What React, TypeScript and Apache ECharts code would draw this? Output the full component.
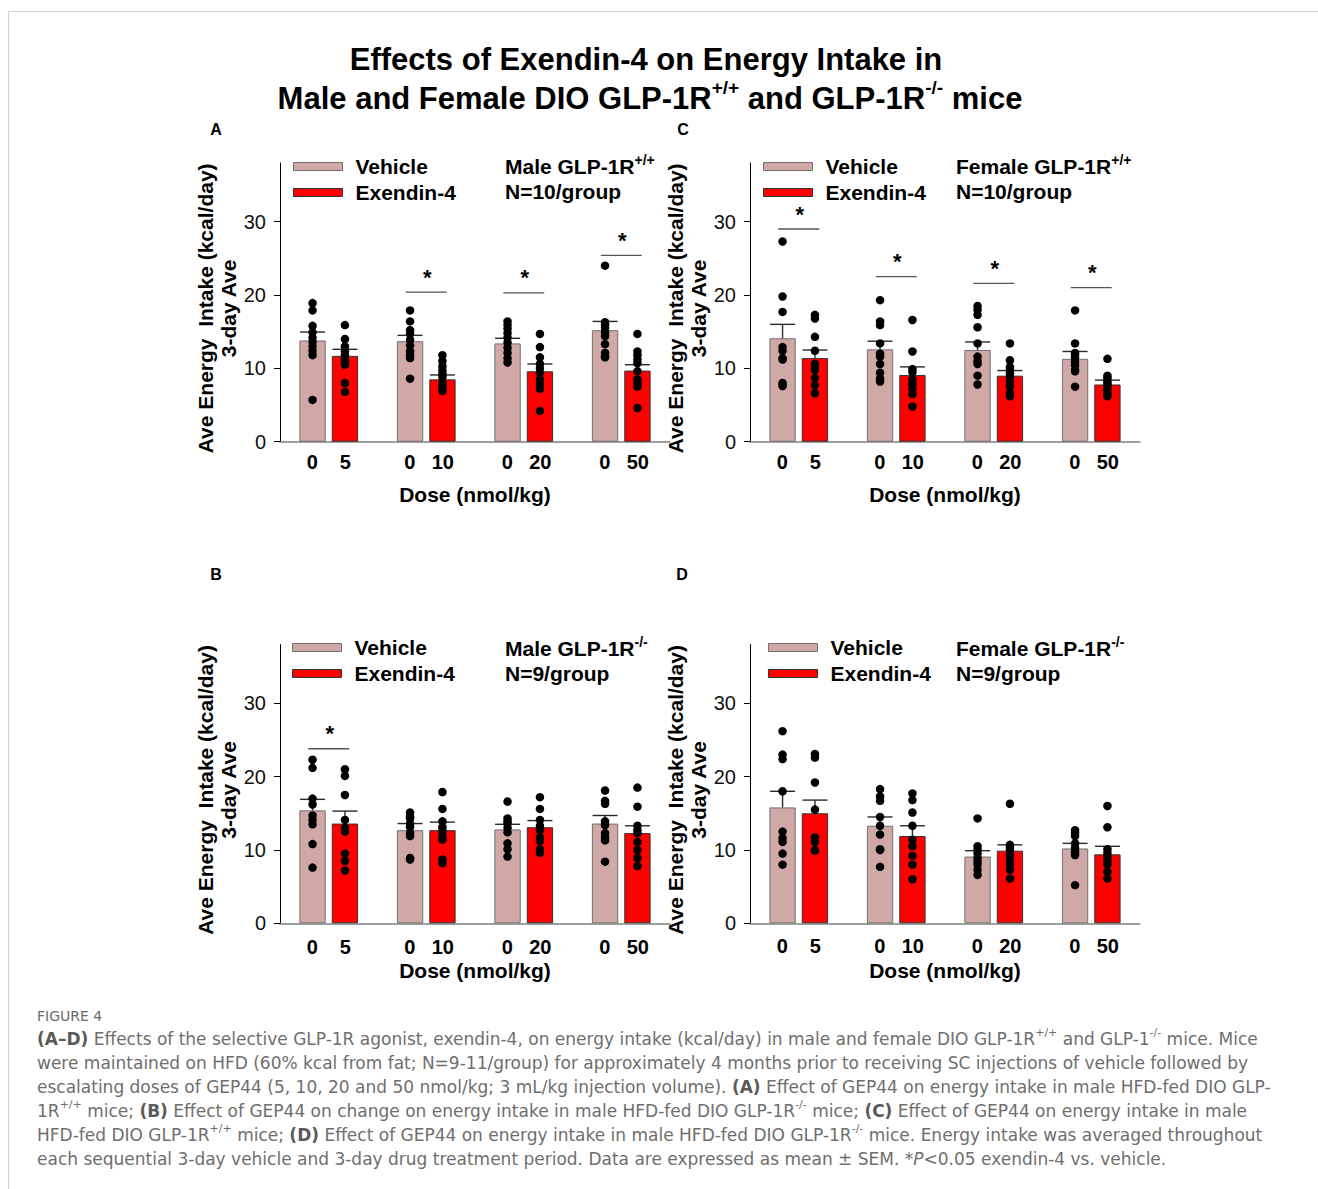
import React, { useEffect, useRef } from 'react';
import * as echarts from 'echarts';

const FONT = '"Liberation Sans", Arial, Helvetica, sans-serif';
const CAP_FONT = '"DejaVu Sans", "Open Sans", sans-serif';

// ---------- axis / category data ----------
const drugDoses = ['5', '10', '20', '50'];
const vehicleDose = '0';
const yTicks = [0, 10, 20, 30];
const yMax = 38;
const xName = 'Dose (nmol/kg)';
const yName = 'Ave Energy  Intake (kcal/day)\n3-day Ave';

// ---------- Panel A : Male GLP-1R+/+ ----------
const aVehMean = [13.8, 13.7, 13.4, 15.2];
const aVehSem = [1.15, 0.8, 0.7, 1.2];
const aExMean = [11.7, 8.5, 9.6, 9.7];
const aExSem = [0.9, 0.6, 1.0, 0.8];
const aVehPts = [
  [18.9, 17.9, 15.8, 14.9, 14.2, 13.6, 13.0, 12.4, 11.8, 5.7],
  [17.9, 16.4, 15.2, 14.7, 13.9, 13.1, 12.3, 11.8, 11.4, 8.6],
  [16.4, 15.9, 15.4, 14.8, 14.2, 13.5, 12.8, 12.1, 11.4, 10.8],
  [24.0, 16.3, 15.9, 15.5, 14.9, 14.4, 13.3, 12.1, 11.6, 11.5],
];
const aExPts = [
  [15.9, 14.0, 13.0, 12.3, 11.8, 11.4, 10.9, 10.5, 8.0, 6.8],
  [11.8, 11.0, 10.3, 9.7, 9.2, 8.8, 8.1, 7.7, 7.4, 6.9],
  [14.7, 12.9, 11.5, 10.6, 10.0, 9.4, 8.5, 7.8, 7.2, 4.2],
  [14.7, 12.3, 11.8, 11.2, 10.7, 9.6, 8.5, 8.0, 7.5, 4.6],
];
const aSig = [null, 20.4, 20.3, 25.4];

// ---------- Panel C : Female GLP-1R+/+ ----------
const cVehMean = [14.1, 12.6, 12.5, 11.3];
const cVehSem = [1.9, 1.1, 1.1, 1.0];
const cExMean = [11.4, 9.1, 9.0, 7.8];
const cExSem = [1.1, 1.1, 0.7, 0.6];
const cVehPts = [
  [27.3, 19.8, 17.7, 12.9, 12.4, 11.4, 11.2, 8.0, 7.8, 7.6],
  [19.3, 16.4, 15.9, 13.4, 12.0, 11.6, 10.6, 9.4, 8.6, 8.2],
  [18.5, 18.0, 17.3, 15.6, 13.4, 11.6, 11.0, 10.6, 9.0, 7.8],
  [17.9, 13.4, 12.1, 11.8, 11.4, 10.9, 10.4, 9.8, 9.6, 7.5],
];
const cExPts = [
  [17.3, 16.8, 14.3, 12.4, 10.6, 10.1, 9.8, 8.7, 7.7, 6.6],
  [16.6, 12.3, 9.9, 9.5, 8.5, 8.0, 7.7, 7.2, 6.5, 4.8],
  [13.4, 11.1, 10.2, 9.8, 9.3, 8.8, 8.2, 7.5, 6.6, 6.2],
  [11.3, 9.0, 8.7, 8.3, 8.0, 7.7, 7.4, 7.1, 6.6, 6.2],
];
const cSig = [29.0, 22.5, 21.6, 21.0];

// ---------- Panel B : Male GLP-1R-/- ----------
const bVehMean = [15.4, 12.7, 12.8, 13.6];
const bVehSem = [1.5, 0.9, 0.7, 1.1];
const bExMean = [13.6, 12.7, 13.1, 12.3];
const bExSem = [1.7, 1.1, 0.9, 1.0];
const bVehPts = [
  [22.3, 21.2, 17.0, 16.2, 14.7, 14.1, 13.5, 10.8, 7.6],
  [15.1, 14.5, 14.3, 13.6, 13.1, 12.3, 11.9, 8.9, 8.7],
  [16.6, 14.3, 13.9, 13.6, 13.0, 12.4, 10.9, 10.1, 9.1],
  [18.1, 16.7, 16.3, 13.9, 13.4, 12.3, 11.7, 11.3, 8.4],
];
const bExPts = [
  [21.0, 20.1, 17.5, 14.1, 13.0, 12.5, 9.5, 8.5, 7.2],
  [17.9, 15.6, 13.9, 13.1, 12.6, 11.9, 11.4, 8.7, 8.2],
  [17.2, 15.6, 14.1, 13.3, 12.7, 11.7, 11.2, 10.1, 9.6],
  [18.5, 15.9, 13.3, 12.7, 12.3, 11.1, 10.0, 8.9, 7.8],
];
const bSig = [23.8, null, null, null];

// ---------- Panel D : Female GLP-1R-/- ----------
const dVehMean = [15.8, 13.3, 9.1, 10.2];
const dVehSem = [2.2, 1.2, 0.8, 0.7];
const dExMean = [15.0, 11.9, 9.9, 9.4];
const dExSem = [1.8, 1.4, 0.8, 1.1];
const dVehPts = [
  [26.2, 23.0, 22.4, 18.0, 12.5, 11.6, 11.1, 9.5, 8.0],
  [18.3, 17.3, 16.7, 14.5, 13.3, 12.1, 10.1, 10.0, 7.7],
  [14.3, 10.5, 10.0, 9.5, 8.9, 8.4, 8.0, 7.3, 6.6],
  [12.7, 12.3, 11.9, 10.9, 10.3, 9.8, 9.6, 9.3, 5.2],
];
const dExPts = [
  [23.1, 22.6, 19.2, 15.5, 11.7, 11.2, 11.1, 10.0, 9.9],
  [17.7, 16.8, 15.1, 13.3, 11.4, 10.5, 9.2, 8.0, 6.0],
  [16.3, 10.7, 10.4, 10.0, 9.3, 8.6, 8.0, 7.3, 6.1],
  [16.0, 13.1, 10.1, 9.6, 9.1, 8.5, 8.0, 7.0, 6.1],
];
const dSig = [null, null, null, null];

// ---------- texts ----------
const titleLine1 = 'Effects of Exendin-4 on Energy Intake in';
const titleLine2 = '{t|Male and Female DIO GLP-1R}{s|+/+}{t| and GLP-1R}{s|-/-}{t| mice}';
const captionHead = 'FIGURE 4';
const captionLines = [
  '{b|(A–D)}{t| Effects of the selective GLP-1R agonist, exendin-4, on energy intake (kcal/day) in male and female DIO GLP-1R}{s|+/+}{t| and GLP-1}{s|-/-}{t| mice. Mice}',
  '{t|were maintained on HFD (60% kcal from fat; N=9-11/group) for approximately 4 months prior to receiving SC injections of vehicle followed by}',
  '{t|escalating doses of GEP44 (5, 10, 20 and 50 nmol/kg; 3 mL/kg injection volume). }{b|(A)}{t| Effect of GEP44 on energy intake in male HFD-fed DIO GLP-}',
  '{t|1R}{s|+/+}{t| mice; }{b|(B)}{t| Effect of GEP44 on change on energy intake in male HFD-fed DIO GLP-1R}{s|-/-}{t| mice; }{b|(C)}{t| Effect of GEP44 on energy intake in male}',
  '{t|HFD-fed DIO GLP-1R}{s|+/+}{t| mice; }{b|(D)}{t| Effect of GEP44 on energy intake in male HFD-fed DIO GLP-1R}{s|-/-}{t| mice. Energy intake was averaged throughout}',
  '{t|each sequential 3-day vehicle and 3-day drug treatment period. Data are expressed as mean ± SEM. *}{i|P}{t|<0.05 exendin-4 vs. vehicle.}',
];

const VEH_COLOR = '#D0A9A7';
const EX_COLOR = '#FF0000';
const BW = 0.27;
const GAP = 0.23;
const OFF = (BW * (1 + GAP)) / 2;
const SIG_HALF = 0.21;
const CAP_SIZE = 17;

const panels = [
  {
    letter: 'A', lx: 216, ly: 129,
    vehMean: aVehMean, vehSem: aVehSem, exMean: aExMean, exSem: aExSem, vehPts: aVehPts, exPts: aExPts, sig: aSig,
    grid: { left: 280, top: 163, width: 390, height: 278.7 }, labelMargin: 10, nameGap: 42,
    legend: { left: 293, top: 156 }, note: { x: 505, y: 166, t: '{t|Male GLP-1R}{s|+/+}', n: 'N=10/group' },
  },
  {
    letter: 'C', lx: 683, ly: 129,
    vehMean: cVehMean, vehSem: cVehSem, exMean: cExMean, exSem: cExSem, vehPts: cVehPts, exPts: cExPts, sig: cSig,
    grid: { left: 750, top: 163, width: 390, height: 278.7 }, labelMargin: 10, nameGap: 42,
    legend: { left: 763, top: 156 }, note: { x: 956, y: 166, t: '{t|Female GLP-1R}{s|+/+}', n: 'N=10/group' },
  },
  {
    letter: 'B', lx: 216, ly: 574,
    vehMean: bVehMean, vehSem: bVehSem, exMean: bExMean, exSem: bExSem, vehPts: bVehPts, exPts: bExPts, sig: bSig,
    grid: { left: 280, top: 644.6, width: 390, height: 278.7 }, labelMargin: 14, nameGap: 36,
    legend: { left: 292, top: 637 }, note: { x: 505, y: 648, t: '{t|Male GLP-1R}{s|-/-}', n: 'N=9/group' },
  },
  {
    letter: 'D', lx: 682, ly: 574,
    vehMean: dVehMean, vehSem: dVehSem, exMean: dExMean, exSem: dExSem, vehPts: dVehPts, exPts: dExPts, sig: dSig,
    grid: { left: 750, top: 644.6, width: 390, height: 278.7 }, labelMargin: 13, nameGap: 36,
    legend: { left: 768, top: 637 }, note: { x: 956, y: 648, t: '{t|Female GLP-1R}{s|-/-}', n: 'N=9/group' },
  },
];

function errRender(params: any, api: any) {
  const x = api.value(0);
  const p0 = api.coord([x, api.value(1)]);
  const p1 = api.coord([x, api.value(2)]);
  const hw = api.size([(BW / 2) * 0.95, 0])[0];
  const st = { stroke: '#2a2a2a', lineWidth: 1.4 };
  return {
    type: 'group',
    children: [
      { type: 'line', shape: { x1: p0[0], y1: p0[1], x2: p1[0], y2: p1[1] }, style: st },
      { type: 'line', shape: { x1: p1[0] - hw, y1: p1[1], x2: p1[0] + hw, y2: p1[1] }, style: st },
    ],
  };
}

function sigRender(params: any, api: any) {
  const c = api.coord([api.value(0), api.value(1)]);
  const half = api.size([SIG_HALF, 0])[0];
  return {
    type: 'group',
    children: [
      { type: 'line', shape: { x1: c[0] - half, y1: c[1], x2: c[0] + half, y2: c[1] }, style: { stroke: '#555', lineWidth: 1.3 } },
      {
        type: 'text', x: c[0] + 1, y: c[1] - 4,
        style: { text: '*', fontSize: 22, fontWeight: 'bold', fontFamily: FONT, fill: '#000', align: 'center', verticalAlign: 'bottom', textAlign: 'center', textVerticalAlign: 'bottom' },
      },
    ],
  };
}

function tok(size: number, weight: string, color: string, family: string, extra: any = {}) {
  return { fontSize: size, fontWeight: weight, fill: color, color, fontFamily: family, ...extra };
}

function buildOption() {
  const grid: any[] = [];
  const xAxis: any[] = [];
  const yAxis: any[] = [];
  const series: any[] = [];
  const legend: any[] = [];
  const graphic: any[] = [];

  panels.forEach((p, i) => {
    grid.push({ ...p.grid, containLabel: false });
    xAxis.push({
      type: 'category', gridIndex: i, data: drugDoses,
      axisLine: { show: true, lineStyle: { color: '#7f7f7f', width: 1.5 } },
      axisTick: { show: false },
      axisLabel: {
        margin: p.labelMargin, interval: 0,
        formatter: (v: string) => `{a|${vehicleDose}}{b|${v}}`,
        rich: {
          a: { width: 33, align: 'center', fontSize: 20, fontWeight: 'bold', color: '#000', fontFamily: FONT, lineHeight: 20 },
          b: { width: 33, align: 'center', fontSize: 20, fontWeight: 'bold', color: '#000', fontFamily: FONT, lineHeight: 20 },
        },
      },
      name: xName, nameLocation: 'middle', nameGap: p.nameGap,
      nameTextStyle: { fontSize: 21, fontWeight: 'bold', color: '#000', fontFamily: FONT, lineHeight: 22 },
    });
    xAxis.push({ type: 'value', gridIndex: i, min: 0, max: 4, show: false });
    yAxis.push({
      type: 'value', gridIndex: i, min: 0, max: yMax, interval: 10,
      axisLine: { show: true, onZero: false, lineStyle: { color: '#000', width: 1 } },
      axisTick: { show: true, length: 6, lineStyle: { color: '#000' }, customValues: yTicks },
      axisLabel: { customValues: yTicks, fontSize: 20, color: '#111', fontFamily: FONT, margin: 14 },
      splitLine: { show: false },
      name: yName, nameLocation: 'middle', nameRotate: 90, nameGap: 35,
      nameTextStyle: { fontSize: 21, fontWeight: 'bold', color: '#000', fontFamily: FONT, lineHeight: 23, padding: [0, 12, 0, 0] },
    });
    const cx = 2 * i;
    const vx = 2 * i + 1;
    series.push({
      type: 'bar', name: 'Vehicle', xAxisIndex: cx, yAxisIndex: i, data: p.vehMean,
      barWidth: `${BW * 100}%`, barGap: `${GAP * 100}%`, silent: true, z: 2,
      itemStyle: { color: VEH_COLOR, borderColor: '#707070', borderWidth: 1 },
    });
    series.push({
      type: 'bar', name: 'Exendin-4', xAxisIndex: cx, yAxisIndex: i, data: p.exMean,
      barWidth: `${BW * 100}%`, barGap: `${GAP * 100}%`, silent: true, z: 2,
      itemStyle: { color: EX_COLOR, borderColor: '#333', borderWidth: 1 },
    });
    const eb: number[][] = [];
    p.vehMean.forEach((m, g) => eb.push([g + 0.5 - OFF, m, m + p.vehSem[g]]));
    p.exMean.forEach((m, g) => eb.push([g + 0.5 + OFF, m, m + p.exSem[g]]));
    series.push({ type: 'custom', name: 'sem', xAxisIndex: vx, yAxisIndex: i, data: eb, renderItem: errRender, z: 3, silent: true });
    const pts: number[][] = [];
    p.vehPts.forEach((arr, g) => arr.forEach((v) => pts.push([g + 0.5 - OFF, v])));
    p.exPts.forEach((arr, g) => arr.forEach((v) => pts.push([g + 0.5 + OFF, v])));
    series.push({
      type: 'scatter', name: 'points', xAxisIndex: vx, yAxisIndex: i, data: pts,
      symbol: 'circle', symbolSize: 8.5, itemStyle: { color: '#000', opacity: 1 }, z: 4, silent: true,
    });
    const sg: number[][] = [];
    p.sig.forEach((s, g) => { if (s != null) sg.push([g + 0.5, s as number]); });
    if (sg.length) {
      series.push({ type: 'custom', name: 'sig', xAxisIndex: vx, yAxisIndex: i, data: sg, renderItem: sigRender, z: 5, silent: true });
    }
    legend.push({
      orient: 'vertical', left: p.legend.left, top: p.legend.top, padding: 0,
      itemWidth: 49, itemHeight: 8, itemGap: 5, icon: 'rect', selectedMode: false,
      data: [
        { name: 'Vehicle', itemStyle: { color: VEH_COLOR, borderColor: '#707070', borderWidth: 1 } },
        { name: 'Exendin-4', itemStyle: { color: EX_COLOR, borderColor: '#333', borderWidth: 1 } },
      ],
      textStyle: { fontSize: 21, fontWeight: 'bold', color: '#000', fontFamily: FONT, lineHeight: 20, padding: [0, 0, 0, 8] },
    });
    graphic.push({
      type: 'text', x: p.lx, y: p.ly,
      style: { text: p.letter, fontSize: 16, fontWeight: 'bold', fontFamily: FONT, fill: '#000', align: 'center', verticalAlign: 'middle', textAlign: 'center', textVerticalAlign: 'middle' },
    });
    graphic.push({
      type: 'text', x: p.note.x, y: p.note.y,
      style: {
        text: p.note.t, align: 'left', verticalAlign: 'middle', textAlign: 'left', textVerticalAlign: 'middle',
        rich: {
          t: tok(21, 'bold', '#000', FONT, { lineHeight: 27 }),
          s: tok(14, 'bold', '#000', FONT, { lineHeight: 12, verticalAlign: 'top' }),
        },
      },
    });
    graphic.push({
      type: 'text', x: p.note.x, y: p.note.y + 25,
      style: { text: p.note.n, fontSize: 21, fontWeight: 'bold', fontFamily: FONT, fill: '#000', align: 'left', verticalAlign: 'middle', textAlign: 'left', textVerticalAlign: 'middle' },
    });
  });

  graphic.push({ type: 'line', shape: { x1: 8.5, y1: 11.5, x2: 1318, y2: 11.5 }, style: { stroke: '#d4d4d4', lineWidth: 1 } });
  graphic.push({ type: 'line', shape: { x1: 8.5, y1: 11.5, x2: 8.5, y2: 1189 }, style: { stroke: '#d4d4d4', lineWidth: 1 } });

  graphic.push({
    type: 'text', x: 646, y: 59,
    style: { text: titleLine1, fontSize: 31, fontWeight: 'bold', fontFamily: FONT, fill: '#000', align: 'center', verticalAlign: 'middle', textAlign: 'center', textVerticalAlign: 'middle' },
  });
  graphic.push({
    type: 'text', x: 650, y: 98,
    style: {
      text: titleLine2, align: 'center', verticalAlign: 'middle', textAlign: 'center', textVerticalAlign: 'middle',
      rich: {
        t: tok(31, 'bold', '#000', FONT, { lineHeight: 40 }),
        s: tok(19, 'bold', '#000', FONT, { lineHeight: 18, verticalAlign: 'top' }),
      },
    },
  });

  graphic.push({
    type: 'text', x: 37, y: 1016,
    style: { text: captionHead, fontSize: 14, fontFamily: CAP_FONT, fill: '#6a6a6a', align: 'left', verticalAlign: 'middle', textAlign: 'left', textVerticalAlign: 'middle' },
  });
  captionLines.forEach((line, k) => {
    graphic.push({
      type: 'text', x: 37, y: 1039 + k * 24,
      style: {
        text: line, align: 'left', verticalAlign: 'middle', textAlign: 'left', textVerticalAlign: 'middle',
        rich: {
          t: tok(CAP_SIZE, 'normal', '#6e6e6e', CAP_FONT, { lineHeight: 24 }),
          b: tok(CAP_SIZE, 'bold', '#5a5a5a', CAP_FONT, { lineHeight: 24 }),
          i: tok(CAP_SIZE, 'normal', '#6e6e6e', CAP_FONT, { lineHeight: 24, fontStyle: 'italic' }),
          s: tok(11, 'normal', '#6e6e6e', CAP_FONT, { lineHeight: 13, verticalAlign: 'top' }),
        },
      },
    });
  });

  return {
    animation: false,
    backgroundColor: '#ffffff',
    grid, xAxis, yAxis, series, legend, graphic,
  };
}

export default function App() {
  const ref = useRef<HTMLDivElement>(null);
  useEffect(() => {
    const chart = echarts.init(ref.current as HTMLDivElement, null, { renderer: 'svg' });
    chart.setOption(buildOption() as any);
    return () => chart.dispose();
  }, []);
  return (
    <div
      ref={ref}
      style={{ position: 'absolute', left: 0, top: 0, width: 1318, height: 1189, background: '#fff' }}
    />
  );
}
